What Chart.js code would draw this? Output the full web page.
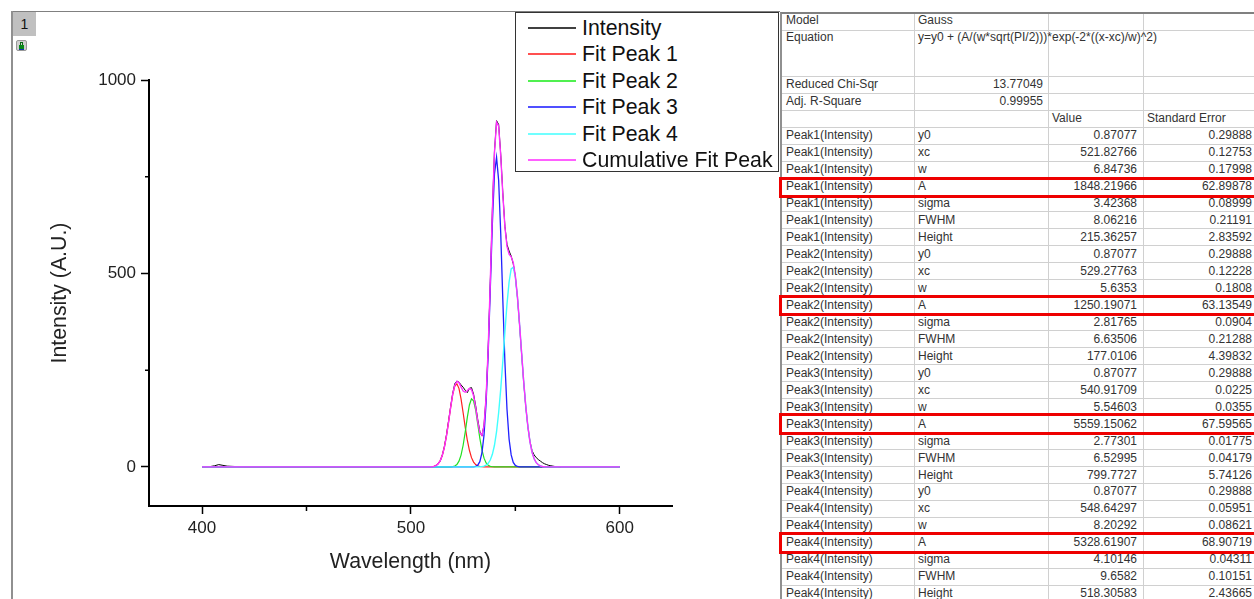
<!DOCTYPE html>
<html>
<head>
<meta charset="utf-8">
<title>Gauss fit</title>
<script src="https://cdn.jsdelivr.net/npm/chart.js@4"></script>
<style>
    html, body { margin: 0; padding: 0; background: #fff; overflow: hidden; }
    body { width: 1254px; height: 599px; position: relative; font-family: "Liberation Sans", Arial, sans-serif; color: #222; }
    #plot { position: absolute; left: 0; top: 0; width: 780px; height: 599px; }
    .frameTop { position: absolute; left: 12px; top: 11px; width: 768px; height: 1px; background: #808080; }
    .frameLeft { position: absolute; left: 11px; top: 11px; width: 2px; height: 588px; background: #909090; }
    .tab { position: absolute; left: 13px; top: 12px; width: 23px; height: 24px; background: #c0c0c0; font-size: 14px; line-height: 24px; text-align: center; color: #111; }
    .lock { position: absolute; left: 16px; top: 40px; width: 11px; height: 11px; background: #d0d0d0; border: 1px solid #999; border-radius: 2px; box-sizing: border-box; }
    .lock i { position: absolute; left: 2px; top: 4px; width: 5px; height: 4px; background: #0a8a1a; border-bottom: 1px solid #1030b0; }
    .lock b { position: absolute; left: 3px; top: 1px; width: 3px; height: 3px; border: 1px solid #0a6a14; border-bottom: 0; box-sizing: border-box; }
    #legend { position: absolute; left: 515px; top: 12px; width: 264px; height: 160px; border: 1px solid #333; box-sizing: border-box; background: #fff; }
    #legend .row { position: absolute; left: 12px; height: 26px; font-size: 21.3px; line-height: 26px; white-space: nowrap; color: #111; }
    #legend .row span { display: inline-block; width: 48px; height: 2px; vertical-align: middle; margin-right: 6px; position: relative; top: -1px; }
    #sheet { position: absolute; left: 780px; top: 12px; width: 474px; height: 587px; border-top: 2px solid #808080; border-left: 2px solid #909090; box-sizing: border-box; overflow: hidden; }
    .cell { position: absolute; font-size: 12px; line-height: 17px; white-space: nowrap; color: #333; }
    .hline { position: absolute; left: 0; right: 0; height: 1px; background: #d0d0d0; }
    .vline { position: absolute; top: 0; bottom: 0; width: 1px; background: #d0d0d0; }
    .redbox { position: absolute; left: 779px; width: 480px; border: 3px solid #ee0000; box-sizing: border-box; }
</style>
</head>
<body>
<canvas id="plot" width="780" height="599"></canvas>
<div class="frameTop"></div>
<div class="frameLeft"></div>
<div class="tab">1</div>
<div class="lock"><b></b><i></i></div>
<div id="legend"></div>
<div id="sheet"></div>
<script>
// 곡선 데이터
const fitWavelengths = [400, 500, 505, 508,
    510, 511, 512, 513, 514, 515, 516, 517, 518, 519,
    520, 521, 522, 523, 524, 525, 526, 527, 528, 529,
    530, 531, 532, 533, 534, 535, 536, 537, 538, 539,
    540, 541, 542, 543, 544, 545, 546, 547, 548, 549,
    550, 551, 552, 553, 554, 555, 556, 557, 558, 559,
    560, 561, 562, 563, 564, 565, 566, 600];
const fitPeak1 = [0, 0, 0.1, 0.2,
    0.55, 1.45, 3.5, 7.8, 15.8, 29.4, 50.6, 79.6, 115, 153,
    187, 209, 215, 203, 176, 140, 103, 69, 43, 24,
    12.5, 6, 2.6, 1, 0.4, 0.1, 0, 0, 0, 0,
    0, 0, 0, 0, 0, 0, 0, 0, 0, 0,
    0, 0, 0, 0, 0, 0, 0, 0, 0, 0,
    0, 0, 0, 0, 0, 0, 0, 0];
const fitPeak2 = [0, 0, 0, 0,
    0, 0, 0, 0, 0, 0, 0, 0, 0.06, 0.2,
    0.8, 2.4, 6.3, 14.8, 30.5, 56, 90, 128, 160, 176,
    171, 147, 111, 74, 44, 22.6, 10.3, 4.2, 1.5, 0.5,
    0.1, 0, 0, 0, 0, 0, 0, 0, 0, 0,
    0, 0, 0, 0, 0, 0, 0, 0, 0, 0,
    0, 0, 0, 0, 0, 0, 0, 0];
const fitPeak3 = [0, 0, 0, 0,
    0, 0, 0, 0, 0, 0, 0, 0, 0, 0,
    0, 0, 0, 0, 0, 0, 0, 0, 0, 0.08,
    0.3, 1.3, 4.5, 13.5, 36, 82, 166, 294, 460, 630,
    757, 800, 741, 604, 432, 271, 149, 72, 31, 11.5,
    3.8, 1.1, 0.3, 0.07, 0, 0, 0, 0, 0, 0,
    0, 0, 0, 0, 0, 0, 0, 0];
const fitPeak4 = [0, 0, 0, 0,
    0, 0, 0, 0, 0, 0, 0, 0, 0, 0,
    0, 0, 0, 0, 0, 0, 0, 0, 0, 0,
    0, 0, 0.14, 0.36, 0.88, 2, 4.5, 9.2, 17.8, 32.5,
    56, 91, 140, 201, 273, 349, 421, 478, 512, 516,
    490, 439, 370, 294, 220, 156, 104, 65, 38, 21,
    11, 5.5, 2.6, 1.1, 0.5, 0.2, 0.07, 0];
const cumulativeFit = [0, 0, 0.1, 0.2,
    0.6, 1.5, 3.5, 7.8, 15.8, 29.4, 50.6, 79.6, 115, 153,
    188, 211, 221, 218, 207, 196, 193, 197, 203, 200,
    184, 154, 118, 89, 81, 107, 181, 307, 479, 663,
    813, 891, 881, 805, 705, 620, 570, 550, 543, 528,
    494, 440, 370, 294, 220, 156, 104, 65, 38, 21,
    11, 5.5, 2.6, 1.1, 0.5, 0.2, 0.1, 0];

const intensityWavelengths = [400, 404, 406, 408, 410, 412, 416, 420, 500, 505, 508,
    510, 511, 512, 513, 514, 515, 516, 517, 518, 519,
    520, 521, 522, 523, 524, 525, 526, 527, 528, 529,
    530, 531, 532, 533, 534, 535, 536, 537, 538, 539,
    540, 541, 542, 543, 544, 545, 546, 547, 548, 549,
    550, 551, 552, 553, 554, 555, 556, 557, 558, 559,
    560, 561, 562, 563, 564, 565, 566, 567, 568, 569,
    570, 571, 572];
const intensity = [0, 1, 3, 6, 4, 2, 1, 0, 0, 0, 0,
    0, 1, 3, 8, 15, 30, 52, 82, 118, 155,
    190, 215, 222, 219, 212, 206, 198, 192, 203, 205,
    188, 158, 122, 92, 80, 108, 181, 306, 478, 665,
    815, 895, 885, 808, 708, 622, 575, 558, 545, 525,
    492, 438, 368, 292, 218, 155, 104, 66, 42, 31,
    24, 19, 15, 11, 8, 6, 4, 3, 2, 1,
    1, 0, 0];

const xMajorTicks = [400, 500, 600];
const xMinorTicks = [450, 550];
const yMajorTicks = [0, 500, 1000];
const yMinorTicks = [250, 750];

const legendLabels = ['Intensity', 'Fit Peak 1', 'Fit Peak 2', 'Fit Peak 3', 'Fit Peak 4', 'Cumulative Fit Peak'];
const legendColors = ['#000000', '#ff2020', '#20e020', '#2020ff', '#40ffff', '#ff30ff'];
const legendSwatches = ['#404040', '#ff5050', '#50f050', '#5050ff', '#70ffff', '#ff60ff'];
const lineWidths = [1, 1.2, 1.2, 1.3, 1.4, 1.4];

// 오른쪽 표
const peakNames = ['Peak1(Intensity)', 'Peak2(Intensity)', 'Peak3(Intensity)', 'Peak4(Intensity)'];
const paramNames = ['y0', 'xc', 'w', 'A', 'sigma', 'FWHM', 'Height'];
const peak1Values = ['0.87077', '521.82766', '6.84736', '1848.21966', '3.42368', '8.06216', '215.36257'];
const peak1Errors = ['0.29888', '0.12753', '0.17998', '62.89878', '0.08999', '0.21191', '2.83592'];
const peak2Values = ['0.87077', '529.27763', '5.6353', '1250.19071', '2.81765', '6.63506', '177.0106'];
const peak2Errors = ['0.29888', '0.12228', '0.1808', '63.13549', '0.0904', '0.21288', '4.39832'];
const peak3Values = ['0.87077', '540.91709', '5.54603', '5559.15062', '2.77301', '6.52995', '799.7727'];
const peak3Errors = ['0.29888', '0.0225', '0.0355', '67.59565', '0.01775', '0.04179', '5.74126'];
const peak4Values = ['0.87077', '548.64297', '8.20292', '5328.61907', '4.10146', '9.6582', '518.30583'];
const peak4Errors = ['0.29888', '0.05951', '0.08621', '68.90719', '0.04311', '0.10151', '2.43665'];

function toPoints(xs, ys) {
    return xs.map((x, i) => ({ x: x, y: ys[i] }));
}

function lineSet(index, xs, ys) {
    return {
        label: legendLabels[index],
        data: toPoints(xs, ys),
        borderColor: legendColors[index],
        borderWidth: lineWidths[index],
        pointRadius: 0,
        tension: 0,
        order: 5 - index
    };
}

// 보조 눈금은 길이가 달라서 따로 그림
const minorTicks = {
    id: 'minorTicks',
    afterDraw(chart) {
        const ctx = chart.ctx;
        const area = chart.chartArea;
        ctx.save();
        ctx.strokeStyle = '#000';
        ctx.lineWidth = 1.5;
        ctx.beginPath();
        xMinorTicks.forEach(v => {
            const px = chart.scales.x.getPixelForValue(v);
            ctx.moveTo(px, area.bottom);
            ctx.lineTo(px, area.bottom + 5);
        });
        yMinorTicks.forEach(v => {
            const py = chart.scales.y.getPixelForValue(v);
            ctx.moveTo(area.left, py);
            ctx.lineTo(area.left - 4, py);
        });
        ctx.stroke();
        ctx.restore();
    }
};

new Chart(document.getElementById('plot'), {
    type: 'line',
    data: {
        datasets: [
            lineSet(0, intensityWavelengths, intensity),
            lineSet(1, fitWavelengths, fitPeak1),
            lineSet(2, fitWavelengths, fitPeak2),
            lineSet(3, fitWavelengths, fitPeak3),
            lineSet(4, fitWavelengths, fitPeak4),
            lineSet(5, fitWavelengths, cumulativeFit)
        ]
    },
    options: {
        responsive: false,
        animation: false,
        layout: { padding: { top: 80, right: 108, left: 0, bottom: 0 } },
        plugins: { legend: { display: false }, tooltip: { enabled: false } },
        scales: {
            x: {
                type: 'linear',
                min: 374.6,
                max: 625,
                afterBuildTicks: s => { s.ticks = xMajorTicks.map(v => ({ value: v })); },
                afterFit: s => { s.height = 93; },
                grid: { drawOnChartArea: false, tickLength: 8, tickColor: '#000', tickWidth: 1.5 },
                border: { color: '#000', width: 2 },
                ticks: { color: '#222', font: { family: 'Liberation Sans', size: 17 }, padding: 4, maxRotation: 0, callback: v => String(v) },
                title: {
                    display: true,
                    text: 'Wavelength (nm)',
                    color: '#222',
                    font: { family: 'Liberation Sans', size: 21.3 },
                    padding: { top: 24, bottom: 24 }
                }
            },
            y: {
                min: -101,
                max: 1000,
                afterBuildTicks: s => { s.ticks = yMajorTicks.map(v => ({ value: v })); },
                afterFit: s => { s.width = 149; },
                grid: { drawOnChartArea: false, tickLength: 8, tickColor: '#000', tickWidth: 1.5 },
                border: { color: '#000', width: 2 },
                ticks: { color: '#222', font: { family: 'Liberation Sans', size: 17 }, padding: 5, callback: v => String(v) },
                title: {
                    display: true,
                    text: 'Intensity (A.U.)',
                    color: '#222',
                    font: { family: 'Liberation Sans', size: 21.3 },
                    padding: { top: 47, bottom: 47 }
                }
            }
        }
    },
    plugins: [minorTicks]
});

// 범례
const legendTops = [3, 29, 56, 82, 109, 135];
const legendBox = document.getElementById('legend');
legendLabels.forEach((label, i) => {
    const row = document.createElement('div');
    row.className = 'row';
    row.style.top = (legendTops[i] - 1) + 'px';
    row.innerHTML = '<span style="background:' + legendSwatches[i] + '"></span>' + label;
    legendBox.appendChild(row);
});

// 표 그리기 (sheet 기준 좌표: x-782, y-14)
const sheet = document.getElementById('sheet');
function addCell(text, x, centerY, right) {
    const c = document.createElement('div');
    c.className = 'cell';
    c.textContent = text;
    c.style.top = (centerY - 13 - 8.5) + 'px';
    if (right) c.style.right = (1254 - x) + 'px';
    else c.style.left = (x - 782) + 'px';
    sheet.appendChild(c);
}
function addHLine(y) {
    const l = document.createElement('div');
    l.className = 'hline';
    l.style.top = (y - 14) + 'px';
    sheet.appendChild(l);
}
[914, 1048, 1143].forEach(x => {
    const l = document.createElement('div');
    l.className = 'vline';
    l.style.left = (x - 782) + 'px';
    sheet.appendChild(l);
});

[30, 76, 93, 110, 127].forEach(addHLine);
addCell('Model', 786, 19);
addCell('Gauss', 918, 19);
addCell('Equation', 786, 36);
addCell('y=y0 + (A/(w*sqrt(PI/2)))*exp(-2*((x-xc)/w)^2)', 918, 36);
addCell('Reduced Chi-Sqr', 786, 83);
addCell('13.77049', 1043, 83, true);
addCell('Adj. R-Square', 786, 100);
addCell('0.99955', 1043, 100, true);
addCell('Value', 1052, 117);
addCell('Standard Error', 1147, 117);

const allValues = [peak1Values, peak2Values, peak3Values, peak4Values];
const allErrors = [peak1Errors, peak2Errors, peak3Errors, peak4Errors];
peakNames.forEach((peak, p) => {
    paramNames.forEach((param, i) => {
        const n = p * paramNames.length + i;
        const mid = 134.6 + n * 16.97;
        addHLine(Math.round(mid + 9));
        addCell(peak, 786, mid);
        addCell(param, 918, mid);
        addCell(allValues[p][i], 1137, mid, true);
        addCell(allErrors[p][i], 1252, mid, true);
    });
});

// 빨간 강조 상자
const redBoxTops = [177, 295, 413, 532];
const redBoxHeights = [21, 21, 22, 22];
redBoxTops.forEach((top, i) => {
    const b = document.createElement('div');
    b.className = 'redbox';
    b.style.top = top + 'px';
    b.style.height = redBoxHeights[i] + 'px';
    document.body.appendChild(b);
});
</script>
</body>
</html>
